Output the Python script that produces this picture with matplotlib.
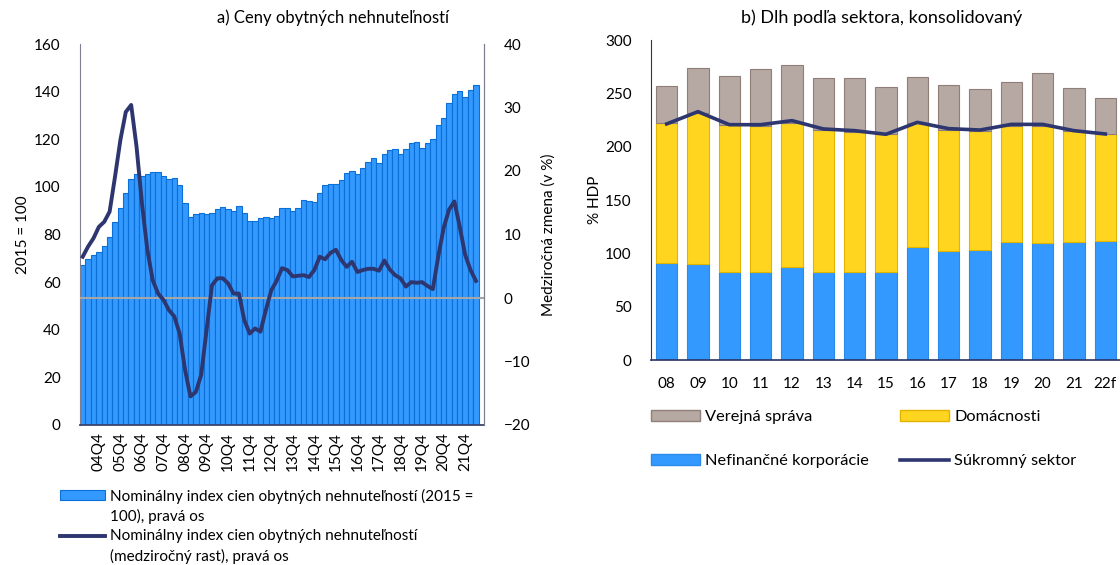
import numpy as np
import matplotlib.pyplot as plt
from matplotlib.patches import Patch, Rectangle
from matplotlib.lines import Line2D

plt.rcParams['font.family'] = ['Lato', 'DejaVu Sans']

# --- left chart: residential property prices, quarterly 2004Q1 - 2022Q2
quarters = [f"{y % 100:02d}Q{q}" for y in range(2004, 2023) for q in range(1, 5)][:74]
price_index = [67.2, 69.6, 71.4, 72.8, 75.2, 79.1, 85.4, 91.0, 97.6, 103.3,
               105.4, 104.7, 105.3, 106.4, 106.4, 104.7, 103.3, 103.6, 100.8, 93.1,
               87.5, 88.5, 88.9, 88.5, 89.0, 90.9, 91.7, 90.9, 89.9, 92.0,
               88.9, 85.7, 85.7, 86.8, 87.2, 86.8, 87.8, 91.0, 91.0, 89.9,
               91.0, 94.5, 94.2, 93.8, 97.3, 100.7, 101.1, 101.1, 102.9, 105.7,
               106.8, 105.3, 107.8, 110.3, 112.0, 109.9, 113.8, 115.5, 115.9, 113.7,
               115.9, 118.6, 118.7, 116.5, 118.3, 120.3, 126.0, 128.8, 135.1, 138.9,
               140.3, 137.6, 140.7, 142.8]
price_growth = [6.5, 8.1, 9.4, 11.2, 12.0, 13.6, 19.1, 24.9, 29.3, 30.4,
                23.8, 14.9, 7.6, 2.8, 0.7, -0.3, -1.9, -2.9, -5.6, -11.3,
                -15.5, -14.8, -12.1, -5.0, 2.0, 3.1, 3.1, 2.3, 0.7, 0.7,
                -3.5, -5.6, -4.8, -5.3, -1.9, 1.2, 2.7, 4.7, 4.4, 3.4,
                3.5, 3.6, 3.3, 4.4, 6.5, 6.1, 7.1, 7.6, 6.0, 4.9,
                5.7, 4.1, 4.4, 4.6, 4.6, 4.3, 5.9, 4.5, 3.6, 3.1,
                1.8, 2.5, 2.4, 2.5, 1.9, 1.4, 6.5, 11.0, 13.9, 15.2,
                11.2, 6.8, 4.4, 2.7]
left_legend = [['Nominálny index cien obytných nehnuteľností (2015 =', '100), pravá os'],
               ['Nominálny index cien obytných nehnuteľností', '(medziročný rast), pravá os']]

# --- right chart: debt by sector, % of GDP
years = ['08', '09', '10', '11', '12', '13', '14', '15', '16', '17', '18', '19', '20', '21', '22f']
nfc = [91.3, 89.7, 82.2, 82.8, 87.5, 82.8, 82.2, 82.8, 106.3, 102.5, 103.1, 110.3, 109.4, 110.3, 111.6]
households = [130.6, 142.2, 138.1, 136.9, 134.4, 132.8, 131.9, 128.8, 115.6, 113.1, 111.6, 109.1, 110.3, 104.4, 100.3]
government = [35.0, 41.5, 45.6, 53.1, 54.4, 48.5, 50.0, 44.0, 43.1, 42.2, 39.4, 41.2, 49.7, 40.6, 34.0]
private = [221.3, 232.8, 220.6, 220.6, 224.4, 216.6, 215.0, 211.6, 222.8, 216.9, 215.6, 220.9, 220.9, 215.0, 211.9]

navy = '#2E3670'
blue = '#3399FF'
blue_edge = '#0A6FD6'
yellow = '#FFD520'
yellow_edge = '#E2B400'
grey = '#B6A8A2'
grey_edge = '#8F7F78'

W, H = 1120, 565
fig = plt.figure(figsize=(W / 100, H / 100), dpi=100)

# ---------------- left
ax = fig.add_axes([80/W, 1 - 425/H, 404/W, 381/H])
x = np.arange(len(quarters))
ax.bar(x, price_index, width=1.0, color=blue, edgecolor=blue_edge, linewidth=0.8)
ax.set_xlim(-0.5, 74.5)
ax.set_ylim(0, 160)
ax.set_yticks(range(0, 161, 20))
tick_pos = [i for i, q in enumerate(quarters) if q.endswith('Q4')]
ax.set_xticks(tick_pos)
ax.set_xticklabels([quarters[i] for i in tick_pos], rotation=90)
ax.tick_params(axis='both', length=0, labelsize=11)
ax.tick_params(axis='y', pad=14)
ax.tick_params(axis='x', pad=5)
ax.set_ylabel('2015 = 100', fontsize=11, labelpad=3)
ax.spines['top'].set_visible(False)
ax.spines['left'].set_color('#7F7F8F')
ax.spines['right'].set_color('#7F7F8F')
ax.spines['bottom'].set_color('#3A4470')
ax.spines['bottom'].set_linewidth(1.3)

ax2 = ax.twinx()
ax2.set_ylim(-20, 40)
ax2.set_yticks(range(-20, 41, 10))
ax2.axhline(0, color='#A6A6A6', linewidth=1.5)
ax2.plot(x, price_growth, color=navy, linewidth=2.8)
ax2.tick_params(axis='y', length=0, labelsize=11, pad=14)
ax2.set_ylabel('Medziročná zmena (v %)', fontsize=11, labelpad=8)
for s in ['top', 'left', 'bottom']:
    ax2.spines[s].set_visible(False)
ax2.spines['right'].set_color('#7F7F8F')

fig.text(333/W, 1 - 18/H, 'a) Ceny obytných nehnuteľností', ha='center', va='center', fontsize=12)

# legend below left chart (handle aligned with first text line)
fig.add_artist(Rectangle((60/W, 1 - 500/H), 45/W, 10/H, transform=fig.transFigure,
                         facecolor=blue, edgecolor=blue_edge, linewidth=0.8))
fig.add_artist(Line2D([60/W, 105/W], [1 - 536/H, 1 - 536/H], transform=fig.transFigure,
                      color=navy, linewidth=2.8))
for k, lines in enumerate(left_legend):
    for j, txt in enumerate(lines):
        fig.text(110/W, 1 - (496 + 40*k + 20.5*j)/H, txt, ha='left', va='center', fontsize=11)

# ---------------- right
bx = fig.add_axes([651/W, 1 - 360/H, 470/W, 320/H])
xr = np.arange(len(years))
hh_bottom = np.array(nfc)
gov_bottom = hh_bottom + np.array(households)
bx.bar(xr, nfc, width=0.69, color=blue, edgecolor='#2A8AEA', linewidth=0.8)
bx.bar(xr, households, width=0.69, bottom=hh_bottom, color=yellow, edgecolor=yellow_edge, linewidth=0.8)
bx.bar(xr, government, width=0.69, bottom=gov_bottom, color=grey, edgecolor=grey_edge, linewidth=0.8)
bx.plot(xr, private, color=navy, linewidth=2.6)
bx.set_xlim(-0.5, 14.5)
bx.set_ylim(0, 300)
bx.set_yticks(range(0, 301, 50))
bx.set_xticks(xr)
bx.set_xticklabels(years)
bx.tick_params(axis='both', length=0, labelsize=11)
bx.tick_params(axis='y', pad=14)
bx.tick_params(axis='x', pad=12)
bx.set_ylabel('% HDP', fontsize=11, labelpad=2)
for s in ['top', 'right']:
    bx.spines[s].set_visible(False)
bx.spines['left'].set_color('#2A3466')
bx.spines['bottom'].set_color('#2A3466')
bx.spines['bottom'].set_linewidth(1.2)

fig.text(882/W, 1 - 18/H, 'b) Dlh podľa sektora, konsolidovaný', ha='center', va='center', fontsize=13)

r1 = Patch(facecolor=grey, edgecolor=grey_edge)
r2 = Patch(facecolor=blue, edgecolor='#2A8AEA')
r3 = Patch(facecolor=yellow, edgecolor=yellow_edge)
r4 = Line2D([], [], color=navy, linewidth=2.6)
fig.legend([r1, r2, r3, r4],
           ['Verejná správa', 'Nefinančné korporácie', 'Domácnosti', 'Súkromný sektor'],
           ncol=2, loc='upper left', bbox_to_anchor=(651/W, 1 - 410/H), frameon=False,
           fontsize=11.8, handlelength=3.0, handletextpad=0.3, labelspacing=1.8,
           columnspacing=1.9, borderaxespad=0, borderpad=0)

fig.savefig('out.png', dpi=100)
